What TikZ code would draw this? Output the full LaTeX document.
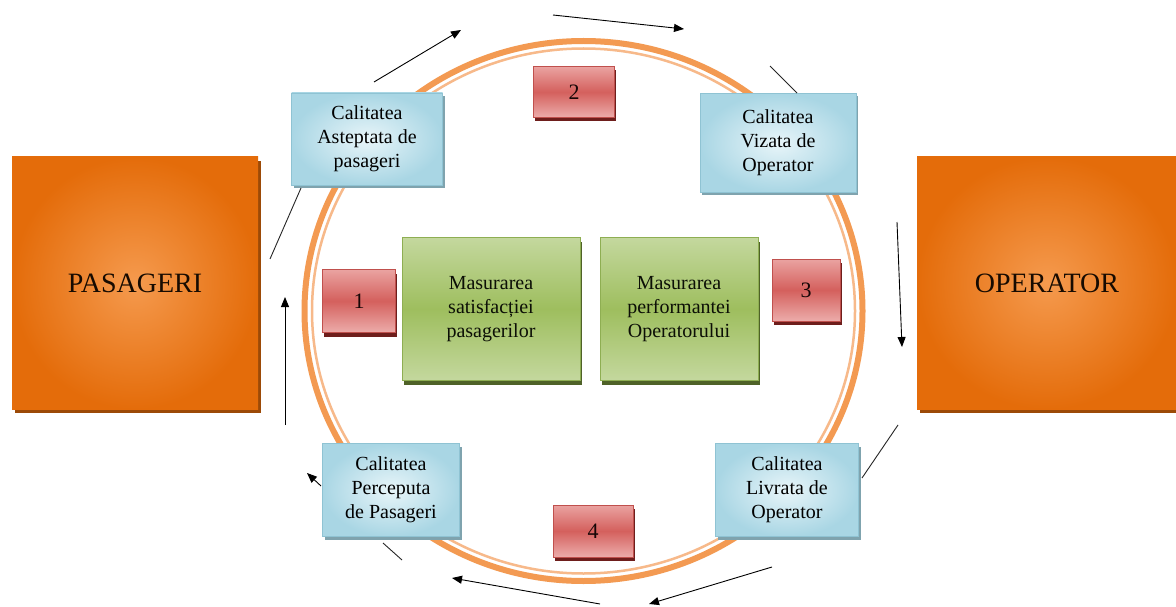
\documentclass[tikz,border=0pt]{standalone}
\usepackage{fontspec}
\setmainfont{Liberation Serif}
\usetikzlibrary{arrows.meta,shadows}
\definecolor{orA}{HTML}{F59A4E}
\definecolor{orB}{HTML}{E46C0A}
\definecolor{orS}{HTML}{9C4A07}
\definecolor{ring}{HTML}{F39A52}
\definecolor{ringIn}{HTML}{F7B98A}
\definecolor{blA}{HTML}{E8F5F9}
\definecolor{blB}{HTML}{A9D6E4}
\definecolor{blD}{HTML}{8FC3D3}
\definecolor{blS}{HTML}{7FA3AE}
\definecolor{rdA}{HTML}{EAA3A1}
\definecolor{rdB}{HTML}{D4605D}
\definecolor{rdD}{HTML}{C0504D}
\definecolor{rdS}{HTML}{6E1E1C}
\definecolor{grA}{HTML}{C4D89E}
\definecolor{grB}{HTML}{9EBE5E}
\definecolor{grD}{HTML}{8EAE52}
\definecolor{grS}{HTML}{4F6228}
\tikzset{
  bigbox/.style={minimum width=246pt,minimum height=252pt,inner sep=0pt,
    inner color=orA,outer color=orB,
    drop shadow={shadow xshift=3pt,shadow yshift=-4pt,opacity=1,fill=orS},
    font=\fontsize{28}{32}\selectfont,text=black!85!orS},
  bluebox/.style={inner sep=0pt,draw=blD,line width=0.6pt,
    inner color=blA,outer color=blB,align=center,
    drop shadow={shadow xshift=2pt,shadow yshift=-3pt,opacity=1,fill=blS},
    font=\fontsize{20}{24}\selectfont},
  redbox/.style={inner sep=0pt,draw=rdD,line width=0.5pt,
    top color=rdA,bottom color=rdA!90!white,middle color=rdB,
    drop shadow={shadow xshift=1.5pt,shadow yshift=-4pt,opacity=1,fill=rdS},
    font=\fontsize{22}{26}\selectfont,text=black!80!rdS},
  greenbox/.style={inner sep=0pt,draw=grD,line width=0.5pt,
    top color=grA,bottom color=grA,middle color=grB,align=center,
    drop shadow={shadow xshift=2pt,shadow yshift=-4pt,opacity=1,fill=grS},
    font=\fontsize{20}{24}\selectfont,text=black!85!grS},
  flow/.style={line width=0.9pt,black,-{Triangle[length=10pt,width=8pt]}},
  link/.style={line width=0.9pt,black!85}
}
\begin{document}
\begin{tikzpicture}[x=1pt,y=-1pt]
\useasboundingbox[fill=white] (0,0) rectangle (1176,607);
% ring
\draw[ring,line width=6pt] (583.5,311) ellipse [x radius=279,y radius=270];
\draw[ringIn,line width=2.5pt] (583.5,311) ellipse [x radius=271.5,y radius=262.5];
% big boxes
\node[bigbox] (pas) at (135,283) {PASAGERI};
\node[bigbox,minimum width=260pt] (op) at (1047,283) {OPERATOR};
% blue boxes
\node[bluebox,minimum width=151pt,minimum height=92pt] (ast) at (367,139)
  {Calitatea\\Asteptata de\\pasageri};
\node[bluebox,minimum width=156pt,minimum height=99pt] (viz) at (778,143)
  {Calitatea\\Vizata de\\Operator};
\node[bluebox,minimum width=137pt,minimum height=93pt] (per) at (391,490)
  {Calitatea\\Perceputa\\de Pasageri};
\node[bluebox,minimum width=143pt,minimum height=93pt] (liv) at (787,490)
  {Calitatea\\Livrata de\\Operator};
% red numbered boxes
\node[redbox,minimum width=73pt,minimum height=63pt] (n1) at (359,301) {1};
\node[redbox,minimum width=81pt,minimum height=51pt] (n2) at (574,92) {2};
\node[redbox,minimum width=68pt,minimum height=62pt] (n3) at (806,290) {3};
\node[redbox,minimum width=80pt,minimum height=52pt] (n4) at (593,531) {4};
% green boxes
\node[greenbox,minimum width=178pt,minimum height=143pt] (g1) at (491,309)
  {Masurarea\\satisfacției\\pasagerilor};
\node[greenbox,minimum width=158pt,minimum height=143pt] (g2) at (679,309)
  {Masurarea\\performantei\\Operatorului};
% connector coordinates
\coordinate (l1a) at (270,259); \coordinate (l1b) at (301,188);
\coordinate (a1s) at (374,82);  \coordinate (a1e) at (461,30);
\coordinate (a2s) at (553,15);  \coordinate (a2e) at (684,29);
\coordinate (l3a) at (770,66);  \coordinate (l3b) at (797,93);
\coordinate (a4s) at (897,222); \coordinate (a4e) at (902,347);
\coordinate (l5a) at (898,425); \coordinate (l5b) at (862,478);
\coordinate (a6s) at (772,567); \coordinate (a6e) at (649,604);
\coordinate (a7s) at (600,604); \coordinate (a7e) at (452,578);
\coordinate (l8a) at (383,543); \coordinate (l8b) at (402,560);
\coordinate (a9s) at (321,486); \coordinate (a9e) at (307,473);
\coordinate (a10s) at (285,425); \coordinate (a10e) at (285,297);
% connectors
\draw[link] (l1a) -- (l1b);
\draw[flow] (a1s) -- (a1e);
\draw[flow] (a2s) -- (a2e);
\draw[link] (l3a) -- (l3b);
\draw[flow] (a4s) -- (a4e);
\draw[link] (l5a) -- (l5b);
\draw[flow] (a6s) -- (a6e);
\draw[flow] (a7s) -- (a7e);
\draw[link] (l8a) -- (l8b);
\draw[flow] (a9s) -- (a9e);
\draw[flow] (a10s) -- (a10e);
\end{tikzpicture}
\end{document}
